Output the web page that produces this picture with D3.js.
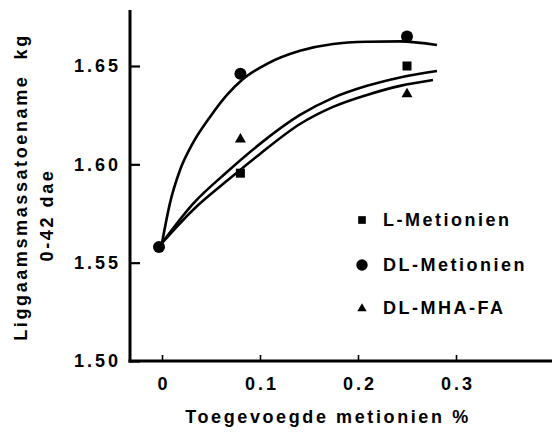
<!DOCTYPE html>
<html>
<head>
<meta charset="utf-8">
<script src="https://cdn.jsdelivr.net/npm/d3@7"></script>
<style>
  body { margin: 0; background: #fff; }
  text { font-family: "Liberation Sans", Arial, sans-serif; font-weight: bold; fill: #000; }
</style>
</head>
<body>
<div id="chart"></div>
<script>
// ticks
const xTicks = [0, 0.1, 0.2, 0.3];
const yTicks = [1.50, 1.55, 1.60, 1.65];

// measured points
const dlDose = [0, 0.08, 0.25];
const dlGain = [1.558, 1.646, 1.665];
const lDose = [0.08, 0.25];
const lGain = [1.5955, 1.650];
const mhaDose = [0.08, 0.25];
const mhaGain = [1.613, 1.636];

// fitted curves
const fitDlX = [0, 0.0082, 0.0184, 0.0316, 0.049, 0.0663, 0.0827, 0.1071, 0.1408, 0.1745, 0.2092, 0.2429, 0.2806];
const fitDlY = [1.560, 1.5804, 1.5971, 1.6109, 1.6241, 1.6353, 1.6434, 1.6511, 1.6577, 1.6612, 1.6623, 1.6625, 1.6607];
const fitAX = [0, 0.0316, 0.0663, 0.1, 0.1408, 0.1745, 0.2092, 0.2429, 0.2806];
const fitAY = [1.560, 1.5799, 1.5961, 1.6104, 1.6251, 1.6338, 1.6399, 1.6442, 1.6475];
const fitBX = [0, 0.0316, 0.0663, 0.1, 0.1408, 0.1745, 0.2092, 0.2429, 0.2765];
const fitBY = [1.560, 1.5768, 1.5916, 1.6053, 1.6205, 1.6292, 1.6353, 1.6399, 1.6429];

const legendNames = ["L-Metionien", "DL-Metionien", "DL-MHA-FA"];
const legendShapes = ["square", "circle", "triangle"];

const width = 552, height = 433;
const axisLeftX = 130, axisTopY = 10;

const svg = d3.select("#chart").append("svg")
  .attr("width", width)
  .attr("height", height);

const x = d3.scaleLinear().domain([0, 0.3]).range([162, 456]);
const y = d3.scaleLinear().domain([1.50, 1.65]).range([361, 66]);

// x axis
const gx = svg.append("g")
  .attr("transform", `translate(0,${y(1.50)})`)
  .call(d3.axisBottom(x)
    .tickValues(xTicks)
    .tickSize(-6)
    .tickPadding(16)
    .tickFormat(d => d === 0 ? "0" : d3.format(".1f")(d)));
gx.select(".domain").remove();
gx.selectAll(".tick line").attr("stroke", "#000").attr("stroke-width", 1.6);
gx.selectAll(".tick text")
  .attr("font-size", 18)
  .attr("letter-spacing", 3)
  .attr("dx", 1.5)
  .style("font-family", "'Liberation Sans', Arial, sans-serif");

// y axis
const gy = svg.append("g")
  .attr("transform", `translate(${axisLeftX},0)`)
  .call(d3.axisLeft(y)
    .tickValues(yTicks)
    .tickSize(-10)
    .tickPadding(9)
    .tickFormat(d3.format(".2f")));
gy.select(".domain").remove();
gy.selectAll(".tick line").attr("stroke", "#000").attr("stroke-width", 2.2);
gy.selectAll(".tick text")
  .attr("font-size", 18)
  .attr("letter-spacing", 3)
  .style("font-family", "'Liberation Sans', Arial, sans-serif");

// axis lines
svg.append("line")
  .attr("x1", axisLeftX).attr("x2", axisLeftX)
  .attr("y1", axisTopY).attr("y2", y(1.50) + 1.5)
  .attr("stroke", "#000").attr("stroke-width", 3);
svg.append("line")
  .attr("x1", axisLeftX - 1.5).attr("x2", width)
  .attr("y1", y(1.50)).attr("y2", y(1.50))
  .attr("stroke", "#000").attr("stroke-width", 3);

// curves
const line = d3.line()
  .x(d => x(d[0]))
  .y(d => y(d[1]))
  .curve(d3.curveMonotoneX);

[[fitDlX, fitDlY], [fitAX, fitAY], [fitBX, fitBY]].forEach(([xs, ys]) => {
  svg.append("path")
    .datum(xs.map((v, i) => [v, ys[i]]))
    .attr("d", line)
    .attr("fill", "none")
    .attr("stroke", "#000")
    .attr("stroke-width", 2.6);
});

// markers
function marker(g, shape, cx, cy, s) {
  if (shape === "circle") {
    g.append("circle").attr("cx", cx).attr("cy", cy).attr("r", 6 * s).attr("fill", "#000");
  } else if (shape === "square") {
    const a = 9 * s;
    g.append("rect").attr("x", cx - a / 2).attr("y", cy - a / 2)
      .attr("width", a).attr("height", a).attr("fill", "#000");
  } else {
    const w = 11 * s, h = 9.5 * s;
    g.append("path")
      .attr("d", `M${cx},${cy - h * 0.6}L${cx + w / 2},${cy + h * 0.4}L${cx - w / 2},${cy + h * 0.4}Z`)
      .attr("fill", "#000");
  }
}

const pts = svg.append("g");
lDose.forEach((d, i) => marker(pts, "square", x(d), y(lGain[i]), 1));
mhaDose.forEach((d, i) => marker(pts, "triangle", x(d), y(mhaGain[i]), 1));
dlDose.forEach((d, i) => marker(pts, "circle", x(d) - (d === 0 ? 3 : 0), y(dlGain[i]), 1));

// legend
const legend = svg.append("g");
const legendY = [220, 265, 308];
legendNames.forEach((name, i) => {
  marker(legend, legendShapes[i], 362, legendY[i], legendShapes[i] === "circle" ? 0.95 : 0.85);
  legend.append("text")
    .attr("x", 383)
    .attr("y", legendY[i])
    .attr("dy", "0.36em")
    .attr("font-size", 18)
    .attr("letter-spacing", 2.5)
    .text(name);
});

// axis titles
svg.append("text")
  .attr("x", 328)
  .attr("y", 423)
  .attr("text-anchor", "middle")
  .attr("font-size", 18)
  .attr("letter-spacing", 2.6)
  .text("Toegevoegde metionien %");

svg.append("text")
  .attr("transform", "translate(27,187) rotate(-90)")
  .attr("text-anchor", "middle")
  .attr("font-size", 18)
  .attr("letter-spacing", 2.6)
  .attr("xml:space", "preserve")
  .style("white-space", "pre")
  .text("Liggaamsmassatoename  kg");

svg.append("text")
  .attr("transform", "translate(53,215) rotate(-90)")
  .attr("text-anchor", "middle")
  .attr("font-size", 18)
  .attr("letter-spacing", 2.6)
  .text("0-42 dae");
</script>
</body>
</html>
